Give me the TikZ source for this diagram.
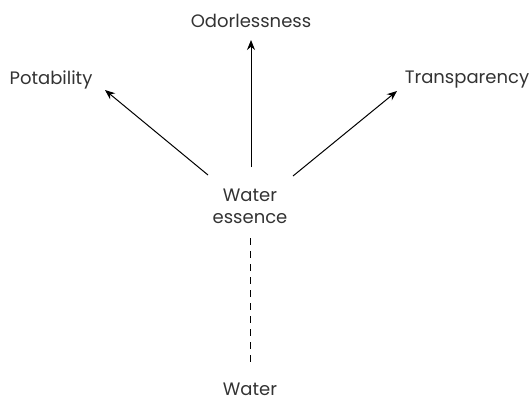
\documentclass[tikz,border=0pt]{standalone}
\usepackage{fontspec}
\setmainfont{Poppins}
\usetikzlibrary{arrows.meta}
\definecolor{txt}{HTML}{333333}
\tikzset{
  lbl/.style={text=txt, font=\fontsize{18}{22}\selectfont, inner sep=0pt, align=center, anchor=base},
  arr/.style={line width=1pt, -{Stealth[length=10pt,width=8pt]}},
  dsh/.style={line width=1pt, dash pattern=on 7pt off 6pt}
}
\begin{document}
\begin{tikzpicture}[x=1pt,y=-1pt]
\useasboundingbox (0,0) rectangle (530,397);
\node[lbl] (odor) at (251,27) {Odorlessness};
\node[lbl] (pot) at (51,84) {Potability};
\node[lbl] (tra) at (467,83) {Transparency};
\node[lbl] (ess) at (250,223) {Water\\essence};
\node[lbl] (wat) at (250,395) {Water};
\coordinate (a1) at (251,167);
\coordinate (b1) at (251,40);
\coordinate (a2) at (208,175);
\coordinate (b2) at (105,90);
\coordinate (a3) at (293,176);
\coordinate (b3) at (397,91);
\coordinate (d1) at (250,238);
\coordinate (d2) at (250,367);
\draw[arr] (a1) -- (b1);
\draw[arr] (a2) -- (b2);
\draw[arr] (a3) -- (b3);
\draw[dsh] (d1) -- (d2);
\end{tikzpicture}
\end{document}
